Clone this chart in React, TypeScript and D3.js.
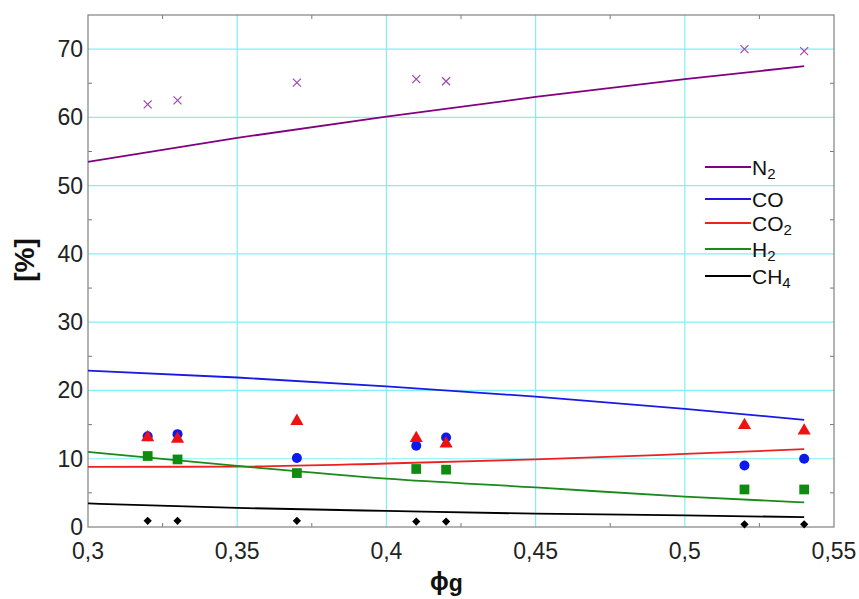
import React from "react";
import * as d3 from "d3";

const expX = [0.32, 0.33, 0.37, 0.41, 0.42, 0.52, 0.54];
const expN2 = [61.9, 62.5, 65.1, 65.6, 65.3, 70.0, 69.7];
const expCO = [13.3, 13.6, 10.1, 11.9, 13.1, 9.0, 10.0];
const expCO2 = [13.1, 12.9, 15.5, 13.0, 12.2, 14.9, 14.1];
const expH2 = [10.4, 9.9, 7.9, 8.5, 8.4, 5.5, 5.5];
const expCH4 = [0.9, 0.9, 0.9, 0.8, 0.8, 0.4, 0.4];

const modelX = [0.3, 0.35, 0.4, 0.45, 0.5, 0.54];
const modelN2 = [53.5, 57.0, 60.1, 63.0, 65.6, 67.5];
const modelCO = [22.9, 21.9, 20.6, 19.1, 17.3, 15.7];
const modelCO2 = [8.8, 8.85, 9.3, 9.9, 10.7, 11.4];
const modelH2 = [11.0, 8.95, 7.1, 5.8, 4.45, 3.6];
const modelCH4 = [3.45, 2.8, 2.35, 1.95, 1.7, 1.45];

const xTicks = [0.3, 0.35, 0.4, 0.45, 0.5, 0.55];
const yTicks = [0, 10, 20, 30, 40, 50, 60, 70];
const legendLabels = [
  { name: "N", sub: "2" },
  { name: "CO", sub: "" },
  { name: "CO", sub: "2" },
  { name: "H", sub: "2" },
  { name: "CH", sub: "4" },
];

const L = 88, R = 834, T = 15, B = 527;
const x = d3.scaleLinear().domain([0.3, 0.55]).range([L, R]);
const y = d3.scaleLinear().domain([0, 75]).range([B, T]);

const colors = {
  N2: "#800080",
  CO: "#1a1ae6",
  CO2: "#ee2020",
  H2: "#1a8a1a",
  CH4: "#000000",
};

export default function App() {
  const mk = (vals: number[]) =>
    d3
      .line<number>()
      .x((_, i) => x(modelX[i]))
      .y((v) => y(v))
      .curve(d3.curveMonotoneX)(vals) || "";

  const series = [
    { vals: modelN2, color: colors.N2 },
    { vals: modelCO, color: colors.CO },
    { vals: modelCO2, color: colors.CO2 },
    { vals: modelH2, color: colors.H2 },
    { vals: modelCH4, color: colors.CH4 },
  ];
  const legendY = [167, 199, 223, 249, 276];
  const legendColors = [colors.N2, colors.CO, colors.CO2, colors.H2, colors.CH4];

  const minorX = d3.range(0.325, 0.55, 0.05);
  const minorY = d3.range(5, 75, 10);
  const font = "Liberation Sans, Arial, sans-serif";

  const tri = d3.symbol().type(d3.symbolTriangle).size(75)() || "";
  const sq = d3.symbol().type(d3.symbolSquare).size(95)() || "";
  const dia = d3.symbol().type(d3.symbolSquare).size(34)() || "";

  return (
    <svg
      width={859}
      height={599}
      style={{ position: "absolute", left: 0, top: 0, background: "#fff" }}
      fontFamily={font}
    >
      <rect x={0} y={0} width={859} height={599} fill="#fff" />
      {/* grid */}
      {xTicks.slice(1, -1).map((t) => (
        <line key={"gx" + t} x1={x(t)} x2={x(t)} y1={T} y2={B} stroke="#7ff0f4" strokeWidth={1.2} />
      ))}
      {yTicks.slice(1).map((t) => (
        <line key={"gy" + t} x1={L} x2={R} y1={y(t)} y2={y(t)} stroke="#7ff0f4" strokeWidth={1.2} />
      ))}
      {/* minor ticks */}
      {minorX.map((t) => (
        <g key={"mx" + t}>
          <line x1={x(t)} x2={x(t)} y1={B} y2={B - 4} stroke="#777" />
          <line x1={x(t)} x2={x(t)} y1={T} y2={T + 4} stroke="#777" />
        </g>
      ))}
      {minorY.map((t) => (
        <g key={"my" + t}>
          <line x1={L} x2={L + 4} y1={y(t)} y2={y(t)} stroke="#777" />
          <line x1={R} x2={R - 4} y1={y(t)} y2={y(t)} stroke="#777" />
        </g>
      ))}
      {/* frame */}
      <rect x={L} y={T} width={R - L} height={B - T} fill="none" stroke="#8a8a8a" strokeWidth={1.3} />

      {/* model lines */}
      {series.map((s, i) => (
        <path key={"l" + i} d={mk(s.vals)} fill="none" stroke={s.color} strokeWidth={1.8} />
      ))}

      {/* experimental points */}
      {expX.map((xv, i) => (
        <g key={"p" + i}>
          <g transform={`translate(${x(xv)},${y(expN2[i])})`} stroke="#9a4aa8" strokeWidth={1.2}>
            <line x1={-4} y1={-4} x2={4} y2={4} />
            <line x1={-4} y1={4} x2={4} y2={-4} />
          </g>
          <circle cx={x(xv)} cy={y(expCO[i])} r={5} fill="#0a1aee" />
          <path d={tri} transform={`translate(${x(xv)},${y(expCO2[i])})`} fill="#ee1111" />
          <path d={sq} transform={`translate(${x(xv)},${y(expH2[i])})`} fill="#108a10" />
          <path d={dia} transform={`translate(${x(xv)},${y(expCH4[i])}) rotate(45)`} fill="#000" />
        </g>
      ))}

      {/* legend */}
      {legendLabels.map((lab, i) => (
        <g key={"lg" + i}>
          <line x1={705} x2={751} y1={legendY[i]} y2={legendY[i]} stroke={legendColors[i]} strokeWidth={1.8} />
          <text x={752} y={legendY[i] + 8} fontSize={21} fill="#111">
            {lab.name}
            {lab.sub && (
              <tspan fontSize={15} dy={4}>
                {lab.sub}
              </tspan>
            )}
          </text>
        </g>
      ))}

      {/* axis labels */}
      {xTicks.map((t) => (
        <text key={"xt" + t} x={x(t)} y={559} fontSize={23} textAnchor="middle" fill="#222">
          {String(t).replace(".", ",")}
        </text>
      ))}
      {yTicks.map((t) => (
        <text key={"yt" + t} x={83} y={y(t) + 8} fontSize={23} textAnchor="end" fill="#222">
          {t}
        </text>
      ))}
      <text
        transform={`translate(34,260) rotate(-90)`}
        fontSize={28}
        fontWeight="bold"
        textAnchor="middle"
        fill="#111"
      >
        [%]
      </text>
      <text x={430} y={590} fontSize={25} fontWeight="bold" fill="#111">
        ϕ
        <tspan fontSize={23} dy={1}>g</tspan>
      </text>
    </svg>
  );
}
